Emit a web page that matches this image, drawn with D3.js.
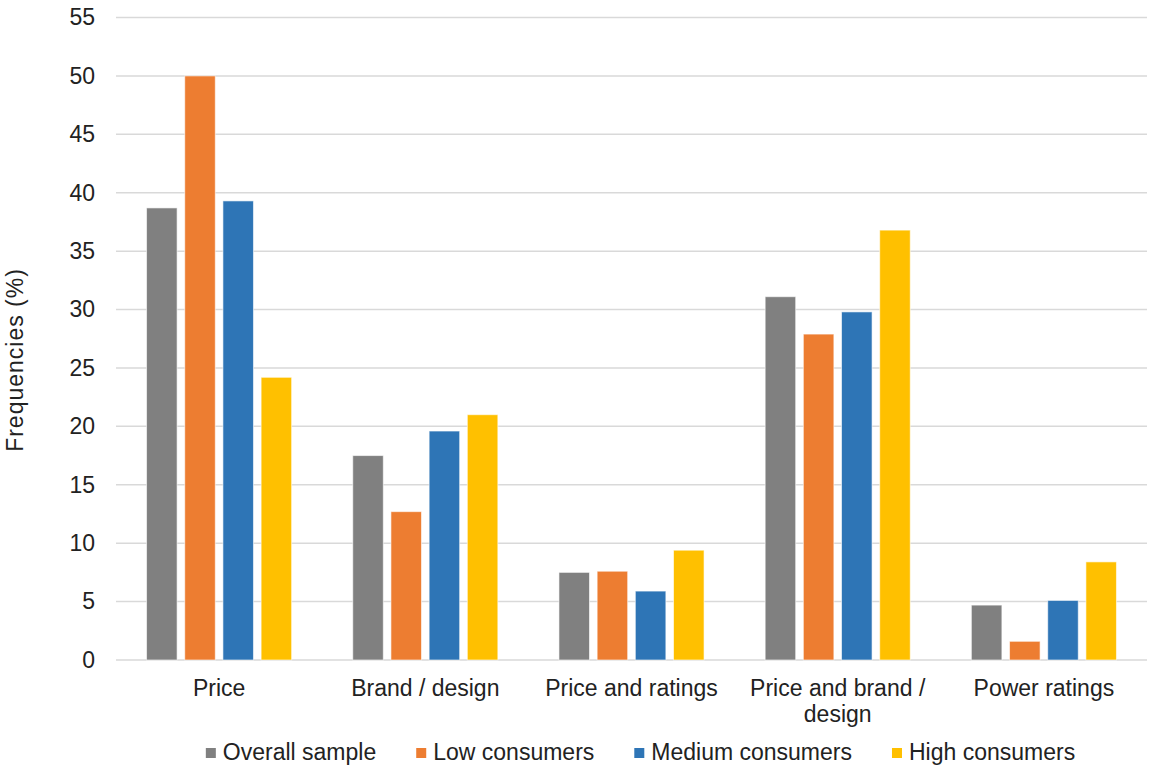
<!DOCTYPE html>
<html>
<head>
<meta charset="utf-8">
<script src="https://cdn.jsdelivr.net/npm/d3@7"></script>
<style>
  html, body { margin: 0; padding: 0; background: #fff; }
  svg { display: block; font-family: "Liberation Sans", Arial, sans-serif; }
</style>
</head>
<body>
<svg id="chart" width="1149" height="768"></svg>
<script>
// Reasons for choosing an appliance, by consumer group (%)
const categories = [
  ["Price"],
  ["Brand / design"],
  ["Price and ratings"],
  ["Price and brand /", "design"],
  ["Power ratings"]
];
const seriesNames = ["Overall sample", "Low consumers", "Medium consumers", "High consumers"];
const seriesColors = ["#808080", "#ED7D31", "#2E75B6", "#FFC000"];

const overallSample = [38.7, 17.5, 7.5, 31.1, 4.7];
const lowConsumers = [50.0, 12.7, 7.6, 27.9, 1.6];
const mediumConsumers = [39.3, 19.6, 5.9, 29.8, 5.1];
const highConsumers = [24.2, 21.0, 9.4, 36.8, 8.4];
const seriesValues = [overallSample, lowConsumers, mediumConsumers, highConsumers];

const yTicks = [0, 5, 10, 15, 20, 25, 30, 35, 40, 45, 50, 55];

const svg = d3.select("#chart");
const margin = { left: 116, right: 2, top: 17.5, bottom: 108 };
const W = 1149, H = 768;
const plotW = W - margin.left - margin.right;
const plotH = H - margin.top - margin.bottom;

const g = svg.append("g").attr("transform", `translate(${margin.left},${margin.top})`);

const x0 = d3.scaleBand().domain(d3.range(categories.length)).range([0, plotW]).padding(0);
const y = d3.scaleLinear().domain([0, 55]).range([plotH, 0]);

// Bar geometry: gap width 200%, series overlap -25%
const barW = x0.bandwidth() / 6.75;
const x1 = d3.scaleBand().domain(d3.range(seriesNames.length))
  .range([0, barW * 4 + barW * 0.25 * 3]).paddingInner(0.2).paddingOuter(0);
const groupOffset = (x0.bandwidth() - (barW * 4 + barW * 0.75)) / 2;

// Gridlines
g.append("g")
  .selectAll("line")
  .data(yTicks)
  .join("line")
  .attr("x1", 0).attr("x2", plotW)
  .attr("y1", d => y(d)).attr("y2", d => y(d))
  .attr("stroke", "#d9d9d9").attr("stroke-width", 1.5);

// Y axis labels
const yAxis = d3.axisLeft(y).tickValues(yTicks).tickSize(0).tickPadding(21);
const yg = g.append("g").call(yAxis);
yg.select(".domain").remove();
yg.selectAll("text").attr("font-size", 23).attr("fill", "#222")
  .attr("font-family", "Liberation Sans, Arial, sans-serif");

// Bars
seriesValues.forEach((vals, si) => {
  g.append("g")
    .selectAll("rect")
    .data(vals)
    .join("rect")
    .attr("x", (d, ci) => x0(ci) + groupOffset + x1(si))
    .attr("width", x1.bandwidth())
    .attr("y", d => y(d))
    .attr("height", d => y(0) - y(d))
    .attr("fill", seriesColors[si])
    .attr("stroke", "#ffffff").attr("stroke-opacity", 0.6).attr("stroke-width", 1);
});

// Category labels
const catG = g.append("g").attr("transform", `translate(0,${plotH})`);
categories.forEach((lines, ci) => {
  const t = catG.append("text")
    .attr("x", x0(ci) + x0.bandwidth() / 2)
    .attr("y", 36)
    .attr("text-anchor", "middle")
    .attr("font-size", 23)
    .attr("fill", "#222");
  lines.forEach((ln, li) => {
    t.append("tspan").attr("x", x0(ci) + x0.bandwidth() / 2)
      .attr("dy", li === 0 ? 0 : 26).text(ln);
  });
});

// Y axis title
svg.append("text")
  .attr("transform", "translate(23,360) rotate(-90)")
  .attr("text-anchor", "middle")
  .attr("font-size", 23)
  .attr("letter-spacing", 1)
  .attr("fill", "#222")
  .text("Frequencies (%)");

// Legend
const legend = svg.append("g").attr("transform", "translate(0,760)");
const items = legend.selectAll("g").data(seriesNames).join("g");
items.append("rect")
  .attr("width", 10).attr("height", 10).attr("y", -12)
  .attr("fill", (d, i) => seriesColors[i]);
items.append("text")
  .attr("x", 17).attr("font-size", 23).attr("fill", "#222")
  .text(d => d);
let widths = [];
items.each(function () { widths.push(17 + d3.select(this).select("text").node().getComputedTextLength()); });
const gap = 40;
const total = d3.sum(widths) + gap * (widths.length - 1);
let cx = 640.5 - total / 2;
items.each(function (d, i) {
  d3.select(this).attr("transform", `translate(${cx},0)`);
  cx += widths[i] + gap;
});
</script>
</body>
</html>
